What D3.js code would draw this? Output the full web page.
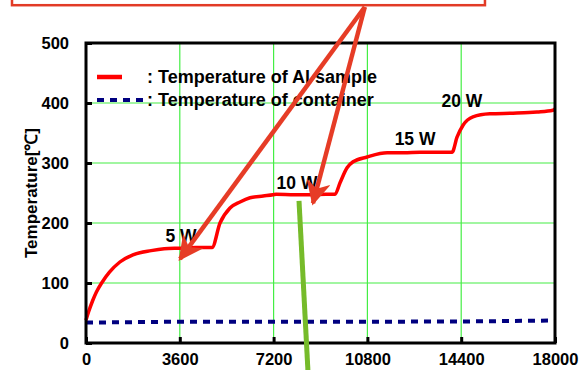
<!doctype html>
<html lang="en">
<head>
<meta charset="UTF-8">
<title>Temperature</title>
<script src="https://cdn.jsdelivr.net/npm/d3@7"></script>
<style>
  body { margin: 0; background: #fff; }
  text { font-family: "Liberation Sans", Arial, sans-serif; font-weight: bold; }
</style>
</head>
<body>
<div id="chart-area"></div>
<script>

// time (s) / temperature (C)
const sampleTime = [0, 100, 250, 400, 600, 900, 1300, 1800, 2500, 3000, 3600, 4200, 4700, 4836,
  5143, 5527, 5911, 6295, 6800, 7177, 7300, 8000, 8598, 9200, 9558,
  9750, 10020, 10250, 10790, 11560, 12200, 12820, 13400, 14050,
  14240, 14470, 14850, 15500, 16390, 17000, 17310, 17920, 18000];
const sampleTemp = [38, 52, 70, 85, 100, 118, 135, 147, 154, 157, 158, 159, 159, 159,
  200, 225, 235, 242, 245, 247, 248, 247, 247, 248, 248,
  267, 292, 302, 310, 317, 317, 318, 318, 318,
  343, 363, 377, 382, 383, 384, 385, 388, 390];

const containerTime = [0, 3600, 7200, 10800, 14400, 18000];
const containerTemp = [34, 35.5, 35.5, 35.5, 35.8, 37.5];

const xTicks = [0, 3600, 7200, 10800, 14400, 18000];
const yTicks = [0, 100, 200, 300, 400, 500];

const legendLabels = [': Temperature of Al sample', ': Temperature of container'];

const powerLabels = ['5 W', '10 W', '15 W', '20 W'];
const powerX = [3646, 8100, 12630, 14430];
const powerY = [168, 257, 330, 393];

// overlay marks, in data units
const arrowFrom = [10700, 560];
const arrowTips = [[3608, 140], [8712, 233]];
const greenLine = [[8175, 237], [8520, -48]];
const boxCorners = [[-2840, 600], [15312, 563]];

const margin = { top: 43, right: 26, bottom: 27, left: 86 };
const W = 581, H = 370;
const chartW = W - margin.left - margin.right;
const chartH = H - margin.top - margin.bottom;

const svg = d3.select('#chart-area')
    .append('svg')
    .attr('width', W)
    .attr('height', H);

const g = svg.append('g')
    .attr('transform', `translate(${margin.left},${margin.top})`);

const x = d3.scaleLinear().domain([0, 18000]).range([0, chartW]);
const y = d3.scaleLinear().domain([0, 500]).range([chartH, 0]);

// grid
g.selectAll('.hgrid')
    .data(yTicks.slice(1, -1))
    .enter().append('line')
    .attr('x1', 0).attr('x2', chartW)
    .attr('y1', d => y(d)).attr('y2', d => y(d))
    .attr('stroke', '#44ee44').attr('stroke-width', 1.2);

g.selectAll('.vgrid')
    .data(xTicks.slice(1, -1))
    .enter().append('line')
    .attr('y1', 0).attr('y2', chartH)
    .attr('x1', d => x(d)).attr('x2', d => x(d))
    .attr('stroke', '#44ee44').attr('stroke-width', 1.2);

// axes
const xAxis = g.append('g')
    .attr('transform', `translate(0,${chartH})`)
    .call(d3.axisBottom(x).tickValues(xTicks).tickFormat(d3.format('d')).tickSize(-6).tickPadding(10));
const yAxis = g.append('g')
    .call(d3.axisLeft(y).tickValues(yTicks).tickFormat(d3.format('d')).tickSize(-6).tickPadding(17));

[xAxis, yAxis].forEach(a => {
    a.select('.domain').remove();
    a.selectAll('line').attr('stroke', '#000').attr('stroke-width', 3);
    a.selectAll('text').attr('font-size', 16.5).attr('fill', '#000')
        .style('font-family', '"Liberation Sans", Arial, sans-serif').style('font-weight', 'bold');
});

// series
const line = d3.line().x(d => x(d[0])).y(d => y(d[1]));

g.append('path')
    .datum(containerTime.map((t, i) => [t, containerTemp[i]]))
    .attr('d', line)
    .attr('fill', 'none')
    .attr('stroke', '#000080')
    .attr('stroke-width', 4)
    .attr('stroke-dasharray', '7,6');

g.append('path')
    .datum(sampleTime.map((t, i) => [t, sampleTemp[i]]))
    .attr('d', line.curve(d3.curveMonotoneX))
    .attr('fill', 'none')
    .attr('stroke', '#ff0000')
    .attr('stroke-width', 3.5);

// frame
g.append('rect')
    .attr('width', chartW).attr('height', chartH)
    .attr('fill', 'none').attr('stroke', '#000').attr('stroke-width', 3);

// legend
const leg = g.append('g').attr('transform', 'translate(11,34)');
leg.append('line').attr('x1', 0).attr('x2', 25).attr('y1', 0).attr('y2', 0)
    .attr('stroke', '#ff0000').attr('stroke-width', 4.5);
leg.append('line').attr('x1', 0).attr('x2', 47).attr('y1', 23).attr('y2', 23)
    .attr('stroke', '#000080').attr('stroke-width', 4).attr('stroke-dasharray', '7,6');
leg.selectAll('text')
    .data(legendLabels)
    .enter().append('text')
    .attr('x', 50)
    .attr('y', (d, i) => i * 23 + 6)
    .attr('font-size', 18)
    .text(d => d);

// power labels
g.selectAll('.pw')
    .data(powerLabels)
    .enter().append('text')
    .attr('x', (d, i) => x(powerX[i]))
    .attr('y', (d, i) => y(powerY[i]))
    .attr('font-size', 17.5)
    .attr('text-anchor', 'middle')
    .text(d => d);

// y title
svg.append('text')
    .attr('transform', 'translate(37,193) rotate(-90)')
    .attr('text-anchor', 'middle')
    .attr('font-size', 17)
    .text('Temperature[\u2103]');

// overlays: red box, arrows, green line
svg.append('defs').append('marker')
    .attr('id', 'head')
    .attr('viewBox', '0 0 10 10')
    .attr('refX', 9).attr('refY', 5)
    .attr('markerWidth', 5.5).attr('markerHeight', 5.5)
    .attr('orient', 'auto')
    .append('path')
    .attr('d', 'M0,0 L10,5 L0,10 L3,5 Z')
    .attr('fill', '#e63c26');

g.append('rect')
    .attr('x', x(boxCorners[0][0])).attr('y', y(boxCorners[0][1]))
    .attr('width', x(boxCorners[1][0]) - x(boxCorners[0][0]))
    .attr('height', y(boxCorners[1][1]) - y(boxCorners[0][1]))
    .attr('fill', 'none').attr('stroke', '#e23b26').attr('stroke-width', 2.5);

g.selectAll('.arrow')
    .data(arrowTips)
    .enter().append('line')
    .attr('x1', x(arrowFrom[0])).attr('y1', y(arrowFrom[1]))
    .attr('x2', d => x(d[0])).attr('y2', d => y(d[1]))
    .attr('stroke', '#e63c26').attr('stroke-width', 4.5)
    .attr('marker-end', 'url(#head)');

g.append('line')
    .attr('x1', x(greenLine[0][0])).attr('y1', y(greenLine[0][1]))
    .attr('x2', x(greenLine[1][0])).attr('y2', y(greenLine[1][1]))
    .attr('stroke', '#76bb2a').attr('stroke-width', 5);

</script>
</body>
</html>
